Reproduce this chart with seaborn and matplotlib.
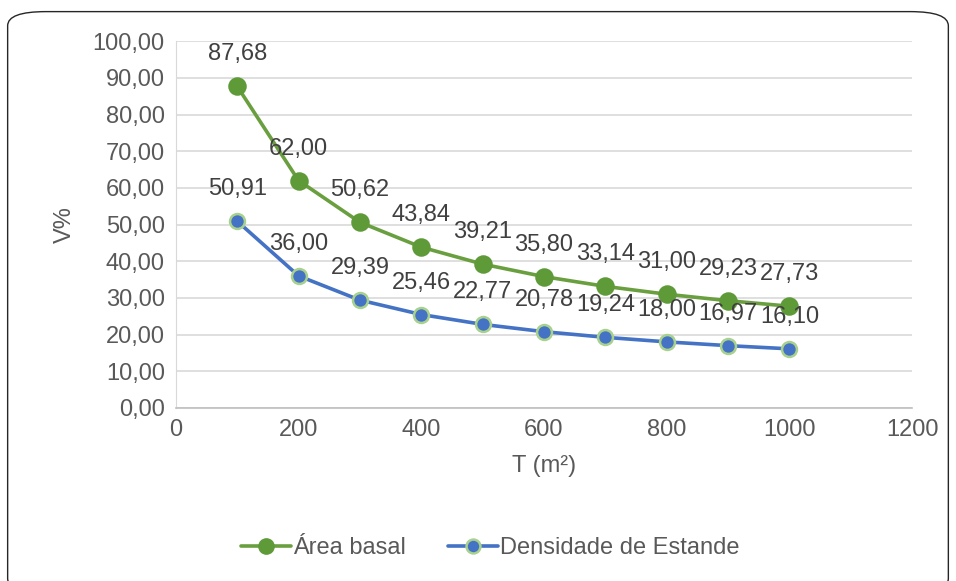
import numpy as np
import pandas as pd
import matplotlib
matplotlib.use('Agg')
import matplotlib.pyplot as plt
import seaborn as sns
from matplotlib.patches import FancyBboxPatch

# dados
t = [100, 200, 300, 400, 500, 600, 700, 800, 900, 1000]
area_basal = [87.68, 62.00, 50.62, 43.84, 39.21, 35.80, 33.14, 31.00, 29.23, 27.73]
densidade = [50.91, 36.00, 29.39, 25.46, 22.77, 20.78, 19.24, 18.00, 16.97, 16.10]
series = ['Área basal', 'Densidade de Estande']

sns.set_style('white')
plt.rcParams['font.family'] = ['Liberation Sans', 'DejaVu Sans']

df = pd.DataFrame({
    'T': t + t,
    'V': area_basal + densidade,
    'serie': [series[0]] * len(t) + [series[1]] * len(t),
})

fig = plt.figure(figsize=(9.56, 5.81), dpi=100)
ax = fig.add_axes([0.184, 0.298, 0.770, 0.631])

# moldura arredondada
fig.patches.append(FancyBboxPatch((0.008, -0.02), 0.984, 1.0,
                                  boxstyle='round,pad=0,rounding_size=0.04',
                                  transform=fig.transFigure, fill=False,
                                  edgecolor='#262626', linewidth=1.0,
                                  mutation_aspect=581 / 956))

cores = {series[0]: '#6A9F3F', series[1]: '#4472C4'}
sns.lineplot(data=df, x='T', y='V', hue='serie', palette=cores, ax=ax,
             linewidth=2.6, legend=False, zorder=3)

# marcadores
d1 = df[df['serie'] == series[0]]
d2 = df[df['serie'] == series[1]]
ax.scatter(d1['T'], d1['V'], s=140, color='#5E9A38', edgecolor='#5E9A38',
           linewidth=1.5, zorder=4)
ax.scatter(d2['T'], d2['V'], s=115, color='#4472C4', edgecolor='#A9D18E',
           linewidth=1.8, zorder=4)

# rótulos dos valores
for d in (d1, d2):
    for x, y in zip(d['T'], d['V']):
        ax.annotate(f'{y:.2f}'.replace('.', ','), (x, y), xytext=(0, 23),
                    textcoords='offset points', ha='center', va='center',
                    fontsize=17, color='#404040', zorder=5)

ax.set_xlim(0, 1200)
ax.set_ylim(0, 100)
ax.set_xticks(np.arange(0, 1201, 200))
ax.set_yticks(np.arange(0, 101, 10))
ax.set_yticklabels([f'{v:.2f}'.replace('.', ',') for v in np.arange(0, 101, 10)])
ax.tick_params(axis='both', labelsize=17, colors='#595959', length=0, pad=8)
ax.yaxis.grid(True, color='#D9D9D9', linewidth=1.2)
ax.set_axisbelow(True)
for s in ['top', 'right']:
    ax.spines[s].set_visible(False)
ax.spines['left'].set_color('#D9D9D9')
ax.spines['bottom'].set_color('#BFBFBF')
ax.spines['bottom'].set_linewidth(1.2)

ax.set_xlabel('T (m²)', fontsize=17, color='#595959', labelpad=10)
ax.set_ylabel('V%', fontsize=17, color='#595959', labelpad=12)

# legenda
h1 = plt.Line2D([], [], color='#6A9F3F', linewidth=2.6, marker='o',
                markersize=11, markerfacecolor='#5E9A38', markeredgecolor='#5E9A38')
h2 = plt.Line2D([], [], color='#4472C4', linewidth=2.6, marker='o',
                markersize=10, markerfacecolor='#4472C4', markeredgecolor='#A9D18E',
                markeredgewidth=1.8)
fig.legend([h1, h2], series, loc='center', bbox_to_anchor=(0.513, 0.057),
           ncol=2, frameon=False, fontsize=17, labelcolor='#595959',
           handlelength=2.1, handletextpad=0.1, columnspacing=1.8)

fig.savefig('out.png', dpi=100)
